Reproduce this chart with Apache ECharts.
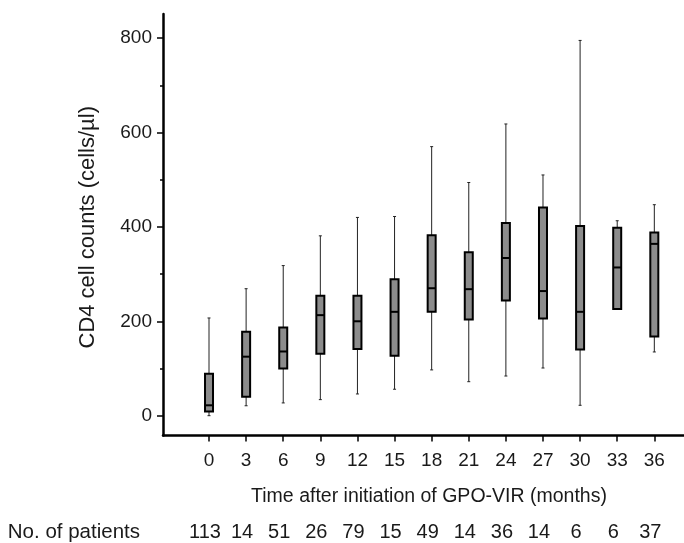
<!DOCTYPE html>
<html>
<head>
<meta charset="utf-8">
<script src="https://cdn.jsdelivr.net/npm/echarts@6/dist/echarts.min.js"></script>
<style>
    html, body {margin: 0; padding: 0; background: #fff;}
    #chart {width: 684px; height: 543px;}
</style>
</head>
<body>
<div id="chart"></div>
<script>
// 月份 (x 轴)
const months = [0, 3, 6, 9, 12, 15, 18, 21, 24, 27, 30, 33, 36];
// 箱线图五数: 下须, Q1, 中位数, Q3, 上须
const lowWhisker = [0, 21, 27, 34, 46, 56, 97, 72, 84, 101, 22, 225, 135];
const q1 = [9, 40, 100, 131, 141, 127, 220, 204, 244, 206, 140, 226, 168];
const median = [22, 125, 136, 213, 200, 220, 270, 268, 334, 264, 220, 314, 364];
const q3 = [89, 178, 187, 254, 254, 289, 382, 346, 408, 441, 402, 398, 388];
const highWhisker = [207, 269, 318, 381, 420, 422, 570, 494, 618, 510, 795, 413, 447];
// 每个时间点的病人数
const patients = [113, 14, 51, 26, 79, 15, 49, 14, 36, 14, 6, 6, 37];
// y 轴刻度
const yMajorTicks = [0, 200, 400, 600, 800];
const yMinorTicks = [100, 300, 500, 700];

const FONT = 'Liberation Sans, Arial, sans-serif';
const TEXT_COLOR = '#1a1a1a';

const boxData = months.map((m, i) => [m, lowWhisker[i], q1[i], median[i], q3[i], highWhisker[i]]);

/**
 * 画一个箱子: 须线, 须端小横线, 灰色箱体, 中位线
 */
function renderBox(params, api) {
    const x = api.value(0);
    const lo = api.coord([x, api.value(1)]);
    const b1 = api.coord([x, api.value(2)]);
    const md = api.coord([x, api.value(3)]);
    const b3 = api.coord([x, api.value(4)]);
    const hi = api.coord([x, api.value(5)]);
    const half = 4;
    const cap = 1.5;
    return {
        type: 'group',
        children: [
            {type: 'line', shape: {x1: lo[0], y1: lo[1], x2: hi[0], y2: hi[1]}, style: {stroke: '#222', lineWidth: 1}},
            {type: 'line', shape: {x1: lo[0] - cap, y1: lo[1], x2: lo[0] + cap, y2: lo[1]}, style: {stroke: '#222', lineWidth: 1}},
            {type: 'line', shape: {x1: hi[0] - cap, y1: hi[1], x2: hi[0] + cap, y2: hi[1]}, style: {stroke: '#222', lineWidth: 1}},
            {type: 'rect', shape: {x: b3[0] - half, y: b3[1], width: half * 2, height: b1[1] - b3[1]},
                style: {fill: '#8c8c8c', stroke: '#000', lineWidth: 2}},
            {type: 'line', shape: {x1: md[0] - half, y1: md[1], x2: md[0] + half, y2: md[1]}, style: {stroke: '#000', lineWidth: 2}}
        ]
    };
}

const chart = echarts.init(document.getElementById('chart'), null, {renderer: 'canvas'});

const option = {
    animation: false,
    backgroundColor: '#fff',
    grid: {left: 163, right: 0, top: 14, bottom: 107},
    xAxis: [
        {
            type: 'value',
            min: -3.72,
            max: 38.4,
            splitLine: {show: false},
            axisLine: {show: true, onZero: false, lineStyle: {color: '#000', width: 2.5}},
            axisTick: {show: true, customValues: months, length: 6, lineStyle: {color: '#000', width: 1.5}},
            axisLabel: {customValues: months, fontSize: 19, fontFamily: FONT, color: TEXT_COLOR, margin: 16},
            name: 'Time after initiation of GPO-VIR (months)',
            nameLocation: 'middle',
            nameGap: 51,
            nameTextStyle: {fontSize: 19.5, fontFamily: FONT, color: TEXT_COLOR, padding: [0, 0, 0, 11]}
        },
        {
            type: 'value',
            position: 'bottom',
            offset: 97,
            min: -3.72,
            max: 38.4,
            splitLine: {show: false},
            axisLine: {show: false, onZero: false},
            axisTick: {show: false},
            axisLabel: {
                customValues: months,
                fontSize: 20, fontFamily: FONT, color: TEXT_COLOR,
                margin: 0,
                verticalAlign: 'middle',
                padding: [0, 8, 0, 0],
                formatter: v => String(patients[months.indexOf(v)])
            },
            name: 'No. of patients',
            nameLocation: 'start',
            nameGap: 23,
            nameTextStyle: {fontSize: 20.5, fontFamily: FONT, color: TEXT_COLOR}
        }
    ],
    yAxis: [
        {
            type: 'value',
            min: -42,
            max: 851,
            splitLine: {show: false},
            axisLine: {show: true, onZero: false, lineStyle: {color: '#000', width: 2.5}},
            axisTick: {show: true, customValues: yMajorTicks, length: 6, lineStyle: {color: '#000', width: 1.5}},
            axisLabel: {customValues: yMajorTicks, fontSize: 19, fontFamily: FONT, color: TEXT_COLOR, margin: 11},
            name: 'CD4 cell counts (cells/µl)',
            nameLocation: 'middle',
            nameGap: 64,
            nameTextStyle: {fontSize: 22, fontFamily: FONT, color: TEXT_COLOR, padding: [0, 5, 0, 0]}
        },
        {
            type: 'value',
            position: 'left',
            min: -42,
            max: 851,
            splitLine: {show: false},
            axisLine: {show: false, onZero: false},
            axisTick: {show: true, customValues: yMinorTicks, length: 3, lineStyle: {color: '#000', width: 1.5}},
            axisLabel: {show: false}
        }
    ],
    series: [
        {
            type: 'custom',
            xAxisIndex: 0,
            yAxisIndex: 0,
            renderItem: renderBox,
            encode: {x: 0, y: [1, 2, 3, 4, 5]},
            data: boxData
        }
    ]
};

chart.setOption(option);
</script>
</body>
</html>
